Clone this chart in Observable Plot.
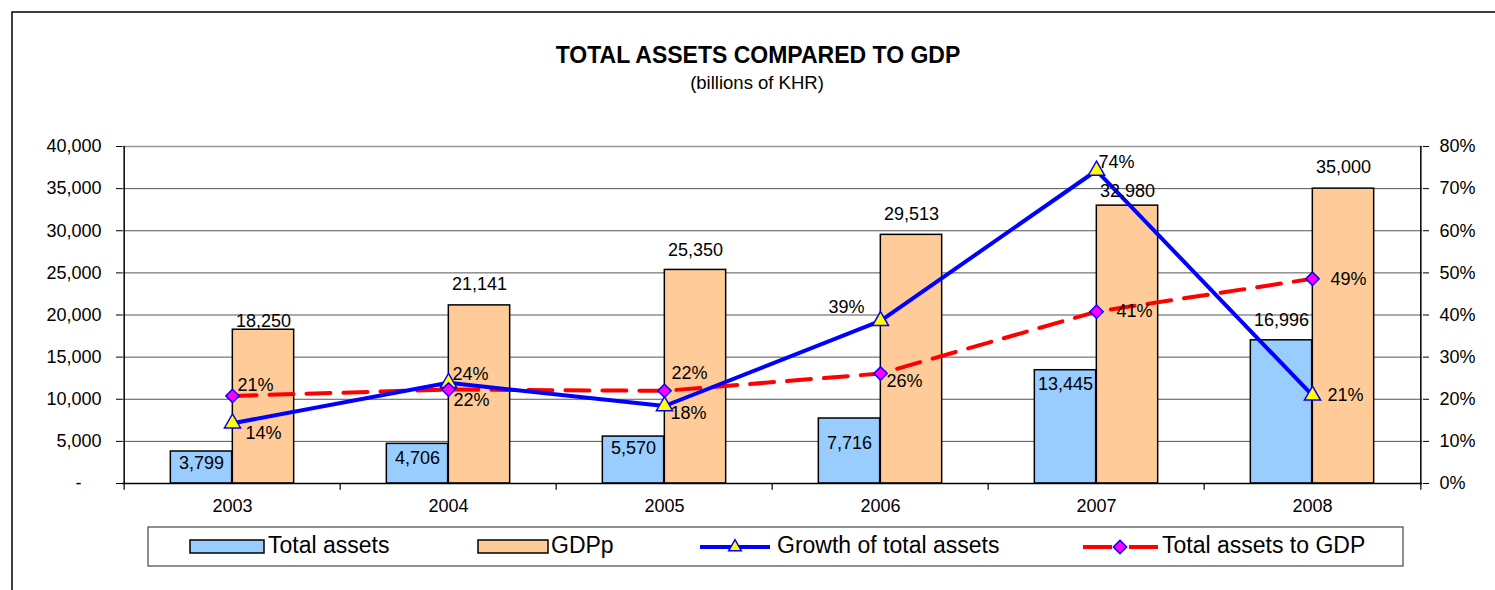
<!DOCTYPE html>
<html><head><meta charset="utf-8">
<script src="https://cdn.jsdelivr.net/npm/d3@7"></script>
<script src="https://cdn.jsdelivr.net/npm/@observablehq/plot@0.6"></script>
<style>
body{margin:0;background:#fff;}
#wrap{position:relative;width:1495px;height:590px;overflow:hidden;font-family:Arial,"Liberation Sans",sans-serif;}
#wrap > svg{position:absolute;left:0;top:0;}
</style></head><body><div id="wrap"></div>
<script>
// ---- data ----
const years = ["2003","2004","2005","2006","2007","2008"];
const totalAssets = [3799, 4706, 5570, 7716, 13445, 16996];
const gdpP = [18250, 21141, 25350, 29513, 32980, 35000];
const growthOfAssets = [0.143, 0.239, 0.184, 0.386, 0.743, 0.209];
const assetsToGdp = [0.208, 0.223, 0.220, 0.261, 0.408, 0.486];
const leftTicks = [0, 5000, 10000, 15000, 20000, 25000, 30000, 35000, 40000];
const rightTicks = [0, 0.1, 0.2, 0.3, 0.4, 0.5, 0.6, 0.7, 0.8];
const seriesNames = ["Total assets", "GDPp", "Growth of total assets", "Total assets to GDP"];

// ---- layout / style config ----
const PCT = 50000; // right axis 80% aligns with left 40,000
const W = 1495, H = 590, ML = 122, MR = 73, MT = 146, MB = 107;
const band = (W - ML - MR) / years.length;
const half = band / 2, barW = 62;
const FONT = "Arial, 'Liberation Sans', sans-serif";
const assetLabelDy = {"2003": 12, "2004": 14, "2005": 12, "2006": 25, "2007": 14, "2008": -20};
const gdpLabelDy = {"2003": -9, "2004": -21, "2005": -20, "2006": -21, "2007": -14, "2008": -21};
const growthLabelPos = {"2003": [13, 10, "start"], "2004": [4, -9, "start"], "2005": [6, 7, "start"], "2006": [-16, -14, "end"], "2007": [2, -8, "start"], "2008": [15, 0, "start"]};
const ratioLabelPos = {"2003": [5, -11], "2004": [5, 11], "2005": [7, -18], "2006": [6, 8], "2007": [20, 0], "2008": [18, 0]};

const data = years.map((year, i) => ({year, assets: totalAssets[i], gdp: gdpP[i], growth: growthOfAssets[i], ratio: assetsToGdp[i]}));
const fmt = d3.format(",");
const pct = d3.format(".0%");

const labelMarks = [];
for (const d of data) {
  labelMarks.push(Plot.text([d], {x: "year", y: "assets", text: r => fmt(r.assets), dx: -barW / 2, dy: assetLabelDy[d.year], fontSize: 18}));
  labelMarks.push(Plot.text([d], {x: "year", y: "gdp", text: r => fmt(r.gdp), dx: barW / 2, dy: gdpLabelDy[d.year], fontSize: 18}));
  const g = growthLabelPos[d.year];
  labelMarks.push(Plot.text([d], {x: "year", y: r => r.growth * PCT, text: r => pct(r.growth), dx: g[0], dy: g[1], textAnchor: g[2], fontSize: 18}));
  const q = ratioLabelPos[d.year];
  labelMarks.push(Plot.text([d], {x: "year", y: r => r.ratio * PCT, text: r => pct(r.ratio), dx: q[0], dy: q[1], textAnchor: "start", fontSize: 18}));
}

const chart = Plot.plot({
  width: W, height: H,
  marginLeft: ML, marginRight: MR, marginTop: MT, marginBottom: MB,
  style: {fontFamily: FONT, fontSize: "18px", background: "transparent", color: "#000", overflow: "visible"},
  x: {type: "band", domain: years, padding: 0},
  y: {domain: [0, 40000]},
  marks: [
    Plot.gridY(leftTicks.slice(1, -1), {stroke: "#555", strokeOpacity: 1, strokeWidth: 1}),
    Plot.gridY([40000], {stroke: "#999", strokeOpacity: 1, strokeWidth: 1.5}),
    Plot.barY(data, {x: "year", y: "assets", fill: "#99CCFF", stroke: "#000", strokeWidth: 1.5, insetLeft: half - barW, insetRight: half}),
    Plot.barY(data, {x: "year", y: "gdp", fill: "#FFCC99", stroke: "#000", strokeWidth: 1.5, insetLeft: half, insetRight: half - barW}),
    Plot.ruleY([0], {stroke: "#000", strokeWidth: 1.5}),
    Plot.ruleX(years, {x: d => d, dx: -half, y1: 0, y2: -800, stroke: "#000", strokeWidth: 1.2}),
    Plot.ruleX([years[years.length - 1]], {x: d => d, dx: half, y1: 0, y2: -800, stroke: "#000", strokeWidth: 1.2}),
    Plot.ruleX([years[0]], {x: d => d, dx: -half, y1: 0, y2: 40000, stroke: "#000", strokeWidth: 1.5}),
    Plot.ruleX([years[years.length - 1]], {x: d => d, dx: half, y1: 0, y2: 40000, stroke: "#000", strokeWidth: 1.5}),
    Plot.axisY({anchor: "left", ticks: leftTicks, tickFormat: d => d === 0 ? "-\u2007\u2007" : fmt(d), tickSize: 6, tickPadding: 15, label: null, fontSize: 18}),
    Plot.axisY({anchor: "right", ticks: rightTicks.map(v => v * PCT), tickFormat: d => pct(d / PCT), tickSize: 6, tickPadding: 11, label: null, fontSize: 18}),
    Plot.axisX({tickSize: 0, tickPadding: 16, label: null, fontSize: 18}),
    Plot.line(data, {x: "year", y: d => d.ratio * PCT, stroke: "#FF0000", strokeWidth: 4, strokeDasharray: "24,13"}),
    Plot.line(data, {x: "year", y: d => d.growth * PCT, stroke: "#0000FF", strokeWidth: 4}),
    Plot.dot(data, {x: "year", y: d => d.growth * PCT, symbol: "triangle", r: 6, fill: "#FFFF00", stroke: "#0000FF", strokeWidth: 1.5}),
    Plot.dot(data, {x: "year", y: d => d.ratio * PCT, symbol: "diamond2", r: 6, fill: "#FF00FF", stroke: "#0000FF", strokeWidth: 1.5}),
    ...labelMarks
  ]
});
document.getElementById("wrap").appendChild(chart);

// ---- overlay: frame, title, legend ----
const ov = d3.select("#wrap").append("svg").attr("width", W).attr("height", H)
  .style("font-family", FONT).style("pointer-events", "none");
ov.append("path").attr("d", `M12,${H} L12,12 L${W},12`).attr("fill", "none").attr("stroke", "#000").attr("stroke-width", 1.5);
ov.append("text").attr("x", 758).attr("y", 57).attr("text-anchor", "middle").attr("dominant-baseline", "middle")
  .attr("font-size", 23).attr("font-weight", "bold").text("TOTAL ASSETS COMPARED TO GDP");
ov.append("text").attr("x", 757).attr("y", 84).attr("text-anchor", "middle").attr("dominant-baseline", "middle")
  .attr("font-size", 18.5).text("(billions of KHR)");

const lg = ov.append("g");
lg.append("rect").attr("x", 148).attr("y", 527).attr("width", 1255).attr("height", 39).attr("fill", "#fff").attr("stroke", "#444").attr("stroke-width", 1.2);
const ly = 547;
lg.append("rect").attr("x", 190).attr("y", 540).attr("width", 74).attr("height", 13).attr("fill", "#99CCFF").attr("stroke", "#000").attr("stroke-width", 1.5);
lg.append("rect").attr("x", 478).attr("y", 540).attr("width", 70).attr("height", 13).attr("fill", "#FFCC99").attr("stroke", "#000").attr("stroke-width", 1.5);
lg.append("line").attr("x1", 700).attr("x2", 770).attr("y1", ly).attr("y2", ly).attr("stroke", "#0000FF").attr("stroke-width", 4);
lg.append("path").attr("transform", `translate(735,${ly})`).attr("d", d3.symbol(d3.symbolTriangle2, 113)()).attr("fill", "#FFFF00").attr("stroke", "#0000FF").attr("stroke-width", 1.5);
lg.append("line").attr("x1", 1083).attr("x2", 1112).attr("y1", ly).attr("y2", ly).attr("stroke", "#FF0000").attr("stroke-width", 4);
lg.append("line").attr("x1", 1129).attr("x2", 1158).attr("y1", ly).attr("y2", ly).attr("stroke", "#FF0000").attr("stroke-width", 4);
lg.append("path").attr("transform", `translate(1120,${ly})`).attr("d", d3.symbol(d3.symbolDiamond2, 113)()).attr("fill", "#FF00FF").attr("stroke", "#0000FF").attr("stroke-width", 1.5);
const lx = [268, 551, 777, 1162];
seriesNames.forEach((s, i) => {
  lg.append("text").attr("x", lx[i]).attr("y", ly).attr("dominant-baseline", "middle").attr("font-size", 23).text(s);
});
</script></body></html>
